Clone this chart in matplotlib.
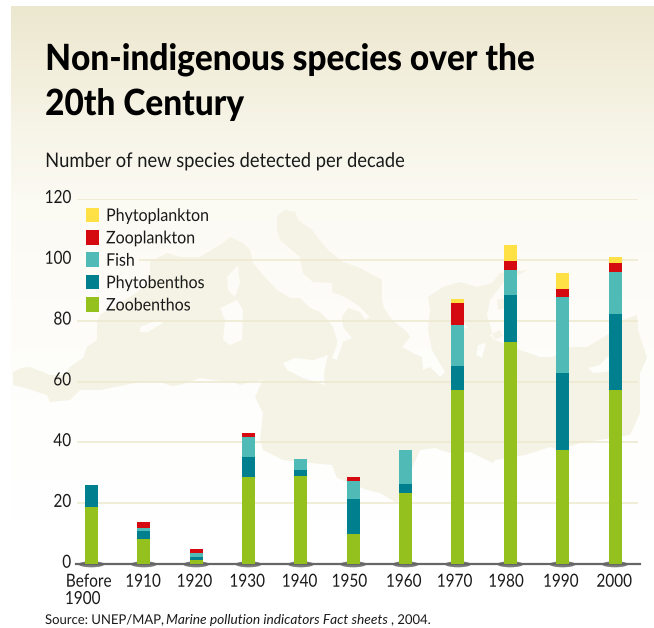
import matplotlib
matplotlib.use("Agg")
import matplotlib.pyplot as plt
import numpy as np
from matplotlib.colors import to_rgb
from matplotlib.patches import Ellipse, PathPatch
from matplotlib.path import Path
from matplotlib.patheffects import AbstractPathEffect
from matplotlib.transforms import Affine2D, ScaledTranslation

plt.rcParams["font.family"] = ["Lato", "DejaVu Sans"]

categories = ["Before\n1900", "1910", "1920", "1930", "1940", "1950",
              "1960", "1970", "1980", "1990", "2000"]
zoobenthos = [18.8, 8.2, 1.3, 28.6, 28.9, 9.9, 23.4, 57.3, 73.0, 37.5, 57.3]
phytobenthos = [7.2, 2.7, 1.0, 6.5, 2.0, 11.5, 2.9, 7.9, 15.5, 25.3, 25.0]
fish = [0, 0.9, 1.3, 6.6, 3.6, 5.9, 11.2, 13.4, 8.2, 25.0, 13.8]
zooplankton = [0, 2.0, 1.3, 1.3, 0, 1.3, 0, 7.3, 3.0, 2.7, 3.0]
phytoplankton = [0, 0, 0, 0, 0, 0, 0, 1.3, 5.2, 5.3, 2.0]

series = [zoobenthos, phytobenthos, fish, zooplankton, phytoplankton]
names = ["Zoobenthos", "Phytobenthos", "Fish", "Zooplankton", "Phytoplankton"]
colors = ["#95c11f", "#007f8f", "#50bab7", "#d50a10", "#ffe045"]
y_ticks = [0, 20, 40, 60, 80, 100, 120]

# small shifts of the decade labels, in pixels
label_nudge = [-3, -1, -2, -1.5, -1.5, -4, -2, -3.5, -4.5, -2, -1]

# background map, traced in pixels: the sea is the cream shape
sea = [(13, 372), (22, 368), (30, 367), (50, 375), (65, 375), (70, 367), (83, 358),
       (87, 347), (97, 340), (97, 323), (100, 315), (113, 307), (133, 295), (150, 283),
       (150, 262), (167, 253), (180, 257), (200, 257), (223, 243), (230, 237), (243, 243),
       (250, 250), (253, 263), (263, 275), (277, 290), (290, 298), (300, 298), (310, 308),
       (320, 312), (328, 320), (333, 327), (337, 340), (337, 345), (332, 358), (337, 360),
       (343, 342), (352, 338), (343, 327), (342, 317), (348, 308), (360, 312), (365, 320),
       (370, 317), (360, 307), (347, 298), (332, 292), (332, 283), (313, 282), (303, 273),
       (300, 257), (280, 240), (277, 230), (277, 216), (285, 210), (295, 212), (298, 220),
       (312, 230), (318, 238), (328, 250), (343, 262), (360, 268), (382, 280), (382, 300),
       (384, 308), (392, 320), (407, 332), (410, 337), (402, 347), (413, 353), (422, 357),
       (423, 370), (430, 367), (440, 377), (445, 372), (432, 350), (428, 330), (430, 310),
       (428, 297), (443, 287), (460, 282), (477, 287), (492, 283), (500, 273), (528, 270),
       (503, 283), (490, 300), (487, 315), (493, 335), (495, 340), (520, 350), (540, 357),
       (553, 357), (570, 347), (587, 347), (607, 335), (623, 320), (637, 315), (638, 330),
       (647, 358), (640, 373), (640, 413), (630, 435), (600, 440), (580, 443), (560, 450),
       (550, 447), (525, 455), (495, 460), (493, 463), (470, 452), (450, 453), (435, 448),
       (420, 450), (397, 503), (380, 493), (367, 490), (337, 478), (332, 465), (300, 462),
       (283, 460), (263, 450), (260, 440), (263, 413), (255, 397), (263, 380), (250, 382),
       (240, 385), (233, 382), (213, 380), (200, 378), (180, 385), (172, 386), (160, 382),
       (140, 382), (100, 390), (80, 390), (70, 400), (50, 402), (47, 395), (25, 388), (13, 385)]
corsica = [(227, 277), (238, 265), (240, 283), (235, 297), (228, 290)]
sardinia = [(220, 308), (237, 300), (243, 310), (242, 340), (230, 345), (223, 340), (225, 320)]
sicily = [(283, 363), (295, 358), (313, 360), (328, 355), (324, 373), (325, 385), (303, 378), (287, 370)]
balearic = [(140, 327), (157, 320), (163, 323), (148, 332), (140, 332)]
cyprus = [(588, 368), (600, 365), (607, 357), (620, 357), (617, 365), (607, 372), (593, 373)]
specks = [(478, 345), (486, 343), (482, 358), (476, 355)], [(450, 325), (462, 320), (468, 328), (456, 330)], \
         [(490, 335), (500, 330), (503, 336), (494, 340)], [(497, 300), (508, 298), (506, 308), (498, 310)]


class Squeeze(AbstractPathEffect):
    # narrows the glyphs sideways, the installed fonts are wider than the original
    def __init__(self, factor, anchor=0.0):
        super().__init__()
        self.factor = factor
        self.anchor = anchor

    def draw_path(self, renderer, gc, tpath, affine, rgbFace=None):
        box = tpath.get_extents()
        x0 = box.x0 + self.anchor * box.width
        squeeze = Affine2D().translate(-x0, 0).scale(self.factor, 1).translate(x0, 0)
        renderer.draw_path(gc, tpath, squeeze + affine, rgbFace)


def ring(points, clockwise):
    pts = np.array(points + [points[0]], dtype=float)
    area = np.sum(pts[:-1, 0] * pts[1:, 1] - pts[1:, 0] * pts[:-1, 1])
    if (area > 0) != clockwise:
        pts = pts[::-1]
    codes = [Path.MOVETO] + [Path.LINETO] * (len(pts) - 2) + [Path.CLOSEPOLY]
    return Path(pts, codes)


fig = plt.figure(figsize=(6.54, 6.28), dpi=100)

# --- Background, in pixel coordinates ---
bg = fig.add_axes([0, 0, 1, 1], zorder=0)
rows = np.arange(6, 628)
stops_y = [6, 60, 130, 200, 300, 400, 520]
stops_c = [to_rgb(c) for c in ["#ece7cf", "#f1edd9", "#f7f5e8", "#fbfaf3", "#fdfcf8", "#fefefc", "#ffffff"]]
shade = np.stack([np.interp(rows, stops_y, [c[i] for c in stops_c]) for i in range(3)], axis=1)
bg.imshow(shade[:, None, :], extent=(11, 654, 628, 6), aspect="auto", interpolation="bilinear")
bg.set_xlim(0, 654)
bg.set_ylim(628, 0)
bg.axis("off")

holes = [corsica, sardinia, sicily, balearic, cyprus] + list(specks)
map_path = Path.make_compound_path(ring(sea, True), *[ring(h, False) for h in holes])
bg.add_patch(PathPatch(map_path, facecolor="#f5f3e5", edgecolor="none"))

bg.text(45, 70, "Non-indigenous species over the", fontsize=26, fontweight="black", color="black",
        path_effects=[Squeeze(0.925)])
bg.text(45, 115, "20th Century", fontsize=26, fontweight="black", color="black",
        path_effects=[Squeeze(0.925)])
bg.text(45, 167, "Number of new species detected per decade", fontsize=14.5, color="#1a1a1a",
        path_effects=[Squeeze(0.91)])
bg.text(45, 624, "Source: UNEP/MAP,", fontsize=9.7, color="#1a1a1a", path_effects=[Squeeze(0.97)])
bg.text(166, 624, "Marine pollution indicators Fact sheets", fontsize=9.9, style="italic", color="#1a1a1a")
bg.text(391, 624, ", 2004.", fontsize=9.7, color="#1a1a1a", path_effects=[Squeeze(0.97)])

# --- Chart ---
step = 52.35
ax = fig.add_axes([76 / 654, (628 - 564) / 628, (640 - 76) / 654, (564 - 199.3) / 628], zorder=1)
ax.patch.set_alpha(0)
ax.set_xlim((76 - 91.5) / step, (640 - 91.5) / step)
ax.set_ylim(0, 120)

for tick in y_ticks[1:]:
    # the 100 line stops at the legend
    start = (139 - 91.5) / step if tick == 100 else (77 - 91.5) / step
    ax.hlines(tick, start, (638 - 91.5) / step, color="#ece8cf", lw=1.1, zorder=1)

x = np.arange(len(categories))
for pos in x:
    ax.add_patch(Ellipse((pos, -0.1), 26 / step, 6 / 3.04, facecolor="#7c7c7c", edgecolor="none",
                         clip_on=False, zorder=2))
ax.axhline(0, color="#666666", lw=1.6, clip_on=False, zorder=3)

bottom = np.zeros(len(categories))
for values, name, color in zip(series, names, colors):
    ax.bar(x, values, width=13 / step, bottom=bottom, color=color, label=name, zorder=4, clip_on=False)
    bottom += np.array(values)

for s in ax.spines.values():
    s.set_visible(False)
ax.set_yticks(y_ticks)
ax.set_xticks(x + np.array(label_nudge) / step, categories)
ax.tick_params(length=0, colors="#1a1a1a", labelsize=13)
ax.tick_params(axis="y", pad=3.5)
ax.tick_params(axis="x", pad=7)
up = ScaledTranslation(0, 2 / 72, fig.dpi_scale_trans)
for label in ax.get_yticklabels():
    label.set_path_effects([Squeeze(0.85, 1.0)])
    label.set_transform(label.get_transform() + up)
for label in ax.get_xticklabels():
    label.set_path_effects([Squeeze(0.85, 0.5)])
    label.set_linespacing(1.1)
ax.get_xticklabels()[0].set_multialignment("left")

handles, labels = ax.get_legend_handles_labels()
leg = ax.legend(handles[::-1], labels[::-1], loc="upper left", bbox_to_anchor=(10 / 564, 0.977),
                frameon=False, fontsize=12.5, handlelength=0.75, handleheight=0.92,
                handletextpad=0.4, labelspacing=0.35, borderaxespad=0, borderpad=0)
for text in leg.get_texts():
    text.set_color("#1a1a1a")
    text.set_path_effects([Squeeze(0.92)])

fig.savefig("out.png", dpi=100)
